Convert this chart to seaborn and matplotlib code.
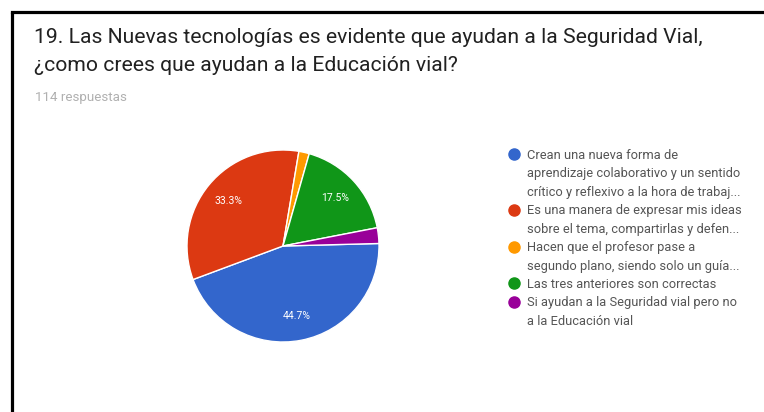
import matplotlib.pyplot as plt
from matplotlib.lines import Line2D
import seaborn as sns

# datos de la encuesta (114 respuestas)
categorias = [
    "Crean una nueva forma de\naprendizaje colaborativo y un sentido\ncrítico y reflexivo a la hora de trabaj...",
    "Es una manera de expresar mis ideas\nsobre el tema, compartirlas y defen...",
    "Hacen que el profesor pase a\nsegundo plano, siendo solo un guía...",
    "Las tres anteriores son correctas",
    "Si ayudan a la Seguridad vial pero no\na la Educación vial",
]
respuestas = [51, 38, 2, 20, 3]
colores = ["#3366cc", "#dc3912", "#ff9900", "#109618", "#990099"]

titulo = [
    "19. Las Nuevas tecnologías es evidente que ayudan a la Seguridad Vial,",
    "¿como crees que ayudan a la Educación vial?",
]
subtitulo = "114 respuestas"

sns.set_theme(style="white")
plt.rcParams['font.family'] = ['Roboto', 'DejaVu Sans']

W, H = 764, 412
fig = plt.figure(figsize=(W / 100, H / 100), dpi=100)
fig.patch.set_facecolor('white')

# marco negro (izquierda y arriba)
fig.add_artist(Line2D([11.5 / W, 11.5 / W], [0, 1 - 12 / H], color='black', lw=2.3,
                      transform=fig.transFigure, solid_capstyle='butt'))
fig.add_artist(Line2D([11.5 / W, 1], [1 - 12 / H, 1 - 12 / H], color='black', lw=2.3,
                      transform=fig.transFigure, solid_capstyle='projecting'))

# títulos
fig.text(34 / W, 1 - 43 / H, titulo[0], ha='left', va='baseline', fontsize=15.2,
         color='#212121')
fig.text(34 / W, 1 - 71 / H, titulo[1], ha='left', va='baseline', fontsize=15.2,
         color='#212121')
fig.text(35 / W, 1 - 101 / H, subtitulo, ha='left', va='baseline', fontsize=9.6,
         color='#b0b0b0')

# pastel
cx, cy, r = 283, 246, 96
ax = fig.add_axes([(cx - r) / W, 1 - (cy + r) / H, 2 * r / W, 2 * r / H])
wedges, textos, pcts = ax.pie(
    respuestas, colors=colores, startangle=1.5, counterclock=False,
    autopct=lambda p: f'{p:.1f}%' if p > 5 else '', pctdistance=0.74,
    wedgeprops=dict(edgecolor='white', linewidth=1),
    textprops=dict(color='white', fontsize=7.5),
)
ax.set_xlim(-1, 1)
ax.set_ylim(-1, 1)
ax.axis('off')

# leyenda: una entrada por línea, el punto solo en la primera línea
handles, etiquetas = [], []
for c, texto in zip(colores, categorias):
    for i, linea in enumerate(texto.split('\n')):
        if i == 0:
            handles.append(Line2D([], [], marker='o', linestyle='none', markersize=8,
                                  markerfacecolor=c, markeredgecolor=c))
        else:
            handles.append(Line2D([], [], linestyle='none'))
        etiquetas.append(linea)

leg = fig.legend(handles, etiquetas, loc='upper left',
                 bbox_to_anchor=(506 / W, 1 - 149 / H), frameon=False,
                 fontsize=9.3, handletextpad=0.4, labelspacing=0.42,
                 borderpad=0, borderaxespad=0, handlelength=1.2)
for t in leg.get_texts():
    t.set_color('#555555')

fig.savefig('out.png', dpi=100, facecolor='white')
